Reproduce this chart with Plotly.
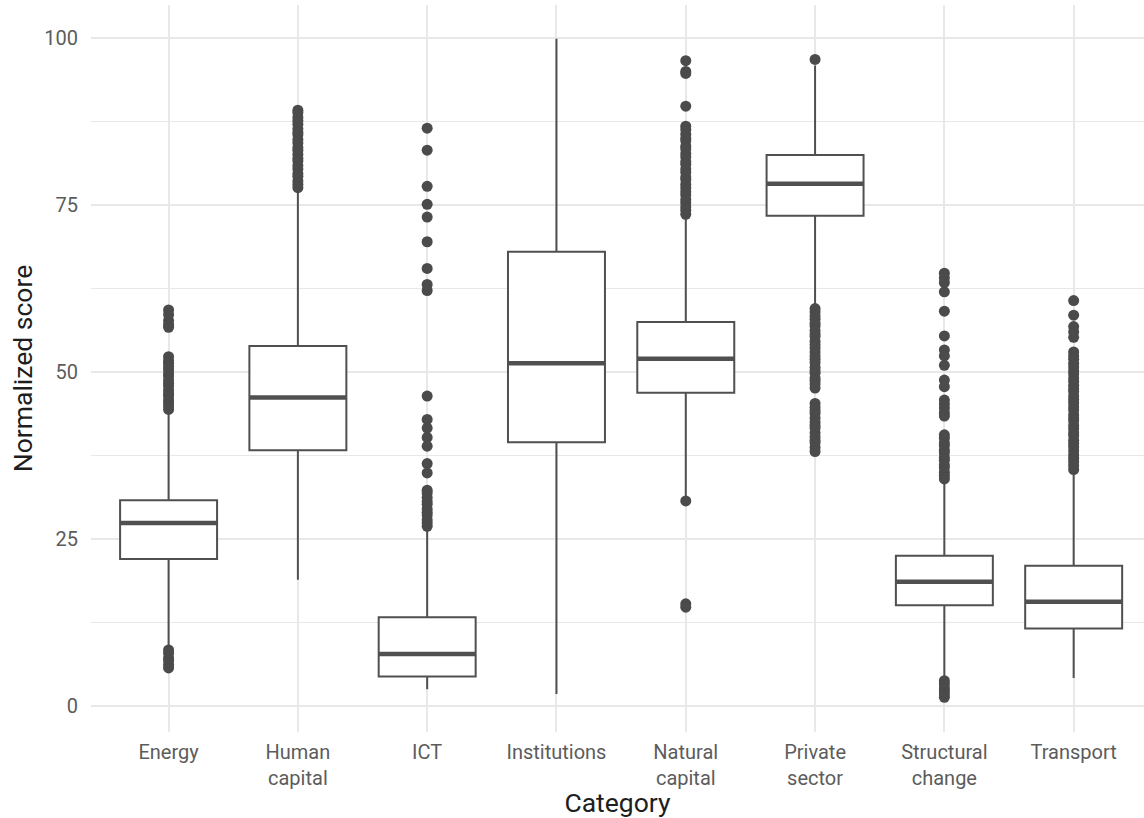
import plotly.graph_objects as go

# Categories and their tick labels
categories = ["Energy", "Human capital", "ICT", "Institutions",
              "Natural capital", "Private sector", "Structural change", "Transport"]
tick_labels = ["Energy", "Human<br>capital", "ICT", "Institutions",
               "Natural<br>capital", "Private<br>sector", "Structural<br>change", "Transport"]

# Box statistics per category
q1 = [22.0, 38.3, 4.4, 39.5, 46.9, 73.4, 15.1, 11.6]
median = [27.4, 46.2, 7.8, 51.3, 52.0, 78.2, 18.6, 15.6]
q3 = [30.8, 53.9, 13.3, 68.0, 57.5, 82.5, 22.5, 21.0]
lower_whisker = [9.0, 18.9, 2.5, 1.8, 31.2, 59.8, 4.3, 4.2]
upper_whisker = [43.8, 76.9, 26.6, 99.9, 73.3, 95.9, 33.4, 34.9]

# Outlying observations per category
outliers = {
    "Energy": [59.3, 58.6, 57.7, 57.1, 56.7, 52.3, 51.7, 51.3, 50.8, 50.3, 49.7,
               49.4, 48.8, 48.3, 47.9, 47.3, 46.8, 46.4, 45.8, 45.4, 44.9, 44.4,
               8.4, 7.9, 7.2, 6.8, 6.2, 5.7],
    "Human capital": [89.2, 88.8, 88.1, 87.6, 87.1, 86.4, 85.9, 85.5, 84.8, 84.3,
                      83.6, 83.2, 82.6, 82.0, 81.6, 80.9, 80.4, 79.7, 79.3, 78.6,
                      78.1, 77.6],
    "ICT": [86.5, 83.2, 77.8, 75.1, 73.2, 69.5, 65.5, 63.1, 62.2, 46.4, 42.9,
            41.6, 40.2, 38.9, 36.3, 34.9, 32.3, 31.9, 31.2, 30.6, 30.2, 29.5,
            29.0, 28.6, 27.9, 27.4, 26.9],
    "Institutions": [],
    "Natural capital": [96.6, 95.0, 94.7, 89.8, 86.8, 86.3, 85.6, 85.0, 84.6, 83.8,
                        83.4, 82.7, 82.2, 81.5, 81.1, 80.4, 79.9, 79.2, 78.8, 78.1,
                        77.6, 77.0, 76.5, 75.8, 75.3, 74.7, 74.2, 73.6, 30.7, 15.3, 14.8],
    "Private sector": [96.8, 59.5, 59.0, 58.4, 57.9, 57.3, 56.9, 56.2, 55.7, 55.3,
                       54.6, 54.1, 53.6, 53.0, 52.4, 51.9, 51.4, 50.7, 50.2, 49.8,
                       49.1, 48.7, 48.2, 47.6, 45.3, 44.7, 44.2, 43.8, 43.1, 42.5,
                       42.0, 41.6, 40.9, 40.3, 39.8, 39.4, 38.7, 38.1],
    "Structural change": [64.8, 64.1, 63.4, 62.0, 59.1, 55.4, 53.3, 52.4, 51.0,
                          48.8, 47.8, 45.8, 45.2, 44.6, 43.9, 43.4, 40.6, 40.1,
                          39.4, 39.0, 38.3, 37.9, 37.2, 36.8, 36.1, 35.7, 35.0,
                          34.5, 34.0, 3.8, 3.3, 2.7, 2.3, 1.8, 1.3],
    "Transport": [60.7, 58.5, 56.8, 56.0, 55.2, 53.0, 52.4, 51.9, 51.3, 50.8,
                  50.2, 49.7, 49.1, 48.6, 48.0, 47.5, 47.1, 46.4, 45.9, 45.4,
                  44.8, 44.3, 43.6, 43.1, 42.7, 42.0, 41.5, 40.9, 40.5, 39.8,
                  39.3, 38.8, 38.2, 37.6, 37.1, 36.6, 36.0, 35.4],
}

BOX_WIDTH = 0.75
LINE_COLOR = "#505050"
POINT_COLOR = "#4b4b4b"
positions = list(range(1, len(categories) + 1))

fig = go.Figure()

# Boxes with whiskers (no caps)
fig.add_trace(go.Box(
    x=positions, q1=q1, median=median, q3=q3,
    lowerfence=lower_whisker, upperfence=upper_whisker,
    width=BOX_WIDTH, whiskerwidth=0, boxpoints=False,
    fillcolor="white", line=dict(color=LINE_COLOR, width=2),
    showlegend=False, hoverinfo="skip",
))

# Thicker median bars
mx, my = [], []
for p, m in zip(positions, median):
    mx += [p - BOX_WIDTH / 2, p + BOX_WIDTH / 2, None]
    my += [m, m, None]
fig.add_trace(go.Scatter(
    x=mx, y=my, mode="lines", line=dict(color=LINE_COLOR, width=4.5),
    showlegend=False, hoverinfo="skip",
))

# Outlier points
ox, oy = [], []
for p, c in zip(positions, categories):
    for v in outliers[c]:
        ox.append(p)
        oy.append(v)
fig.add_trace(go.Scatter(
    x=ox, y=oy, mode="markers",
    marker=dict(color=POINT_COLOR, size=11, line=dict(width=0)),
    showlegend=False,
))

grid = "#e8e8e8"
fig.update_layout(
    width=1144, height=818,
    margin=dict(l=91, r=0, t=5, b=86),
    paper_bgcolor="white", plot_bgcolor="white",
    font=dict(family="Roboto", color="#1e1e1e"),
    xaxis=dict(
        range=[0.4, 8.544],
        tickmode="array", tickvals=positions, ticktext=tick_labels,
        showgrid=True, gridcolor=grid, gridwidth=1.5,
        zeroline=False, showline=False, ticks="",
        tickfont=dict(size=20, color="#5c5c5c"),
        ticklabelstandoff=6,
        title=dict(text="Category", font=dict(size=26.5, color="#1e1e1e"), standoff=2),
    ),
    yaxis=dict(
        range=[-3.89, 104.94],
        tickmode="array", tickvals=[0, 25, 50, 75, 100],
        showgrid=True, gridcolor=grid, gridwidth=1.5,
        minor=dict(tickmode="array", tickvals=[12.5, 37.5, 62.5, 87.5],
                   showgrid=True, gridcolor=grid, gridwidth=0.9),
        zeroline=False, showline=False, ticks="",
        tickfont=dict(size=20, color="#5c5c5c"),
        ticklabelstandoff=12,
        title=dict(text="Normalized score", font=dict(size=26.5, color="#1e1e1e"), standoff=3),
    ),
)

fig.write_html("out.html")
